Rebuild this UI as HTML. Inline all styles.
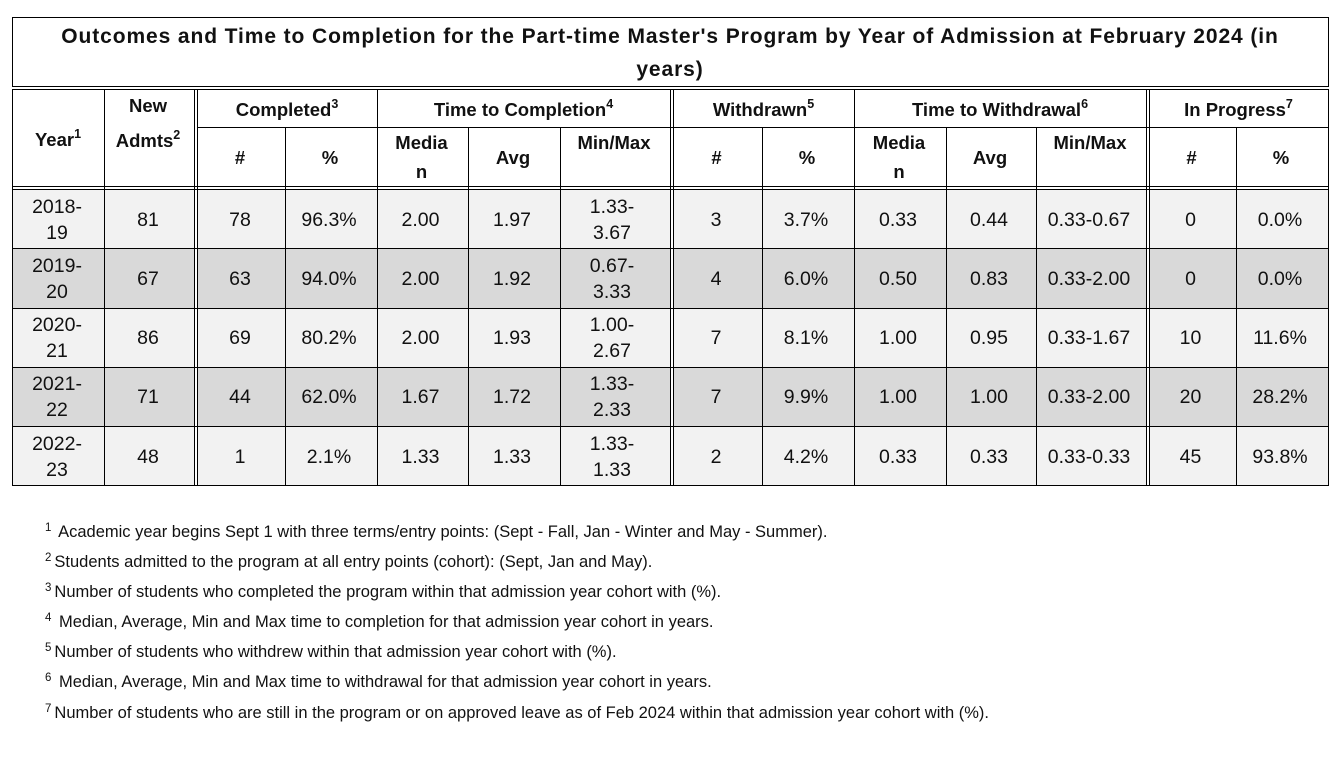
<!DOCTYPE html>
<html><head><meta charset="utf-8"><style>
html,body{margin:0;padding:0;background:#fff;}
#c{position:relative;width:1342px;height:766px;overflow:hidden;background:#fff;font-family:"Liberation Sans",Arial,sans-serif;color:#111;}
.h{position:absolute;height:1px;background:#000;}
.v{position:absolute;width:1px;background:#000;}
.f{position:absolute;}
.t{position:absolute;text-align:center;white-space:nowrap;height:26px;line-height:26px;font-size:19.5px;}
.b{font-weight:bold;font-size:18.5px;}
.s{font-size:12.5px;position:relative;top:-8px;}
.ti{position:absolute;left:12px;width:1316px;height:30px;line-height:30px;text-align:center;white-space:nowrap;font-weight:bold;font-size:21px;letter-spacing:0.9px;}
.fn{position:absolute;left:45px;white-space:nowrap;font-size:16.5px;line-height:20px;height:20px;}
.fn span{font-size:11.5px;position:relative;top:-6px;margin-right:3px;}
</style></head><body><div id="c">
<!-- title box -->
<div class="f" style="left:12px;top:17px;width:1315px;height:68px;border:1px solid #000;"></div>
<div class="ti" style="top:22px;">Outcomes and Time to Completion for the Part-time Master's Program by Year of Admission at February 2024 (in</div>
<div class="ti" style="top:55px;">years)</div>

<!-- row fills -->
<div class="f" style="left:12px;top:190px;width:1316px;height:58px;background:#f2f2f2;"></div>
<div class="f" style="left:12px;top:249px;width:1316px;height:59px;background:#d9d9d9;"></div>
<div class="f" style="left:12px;top:309px;width:1316px;height:58px;background:#f2f2f2;"></div>
<div class="f" style="left:12px;top:368px;width:1316px;height:58px;background:#d9d9d9;"></div>
<div class="f" style="left:12px;top:427px;width:1316px;height:58px;background:#f2f2f2;"></div>
<!-- white gaps of double lines -->
<div class="f" style="left:195px;top:189px;width:2px;height:296px;background:#fff;"></div>
<div class="f" style="left:671px;top:189px;width:2px;height:296px;background:#fff;"></div>
<div class="f" style="left:1147px;top:189px;width:2px;height:296px;background:#fff;"></div>

<!-- horizontal lines -->
<div class="h" style="left:12px;top:89px;width:1317px;"></div>
<div class="h" style="left:197px;top:127px;width:1132px;"></div>
<div class="h" style="left:12px;top:186px;width:1317px;"></div>
<div class="h" style="left:12px;top:189px;width:1317px;"></div>
<div class="h" style="left:12px;top:248px;width:1317px;"></div>
<div class="h" style="left:12px;top:308px;width:1317px;"></div>
<div class="h" style="left:12px;top:367px;width:1317px;"></div>
<div class="h" style="left:12px;top:426px;width:1317px;"></div>
<div class="h" style="left:12px;top:485px;width:1317px;"></div>

<!-- vertical lines -->
<div class="v" style="left:12px;top:89px;height:397px;"></div>
<div class="v" style="left:104px;top:89px;height:397px;"></div>
<div class="v" style="left:194px;top:89px;height:397px;"></div>
<div class="v" style="left:197px;top:89px;height:397px;"></div>
<div class="v" style="left:285px;top:127px;height:359px;"></div>
<div class="v" style="left:377px;top:89px;height:397px;"></div>
<div class="v" style="left:468px;top:127px;height:359px;"></div>
<div class="v" style="left:560px;top:127px;height:359px;"></div>
<div class="v" style="left:670px;top:89px;height:397px;"></div>
<div class="v" style="left:673px;top:89px;height:397px;"></div>
<div class="v" style="left:762px;top:127px;height:359px;"></div>
<div class="v" style="left:854px;top:89px;height:397px;"></div>
<div class="v" style="left:946px;top:127px;height:359px;"></div>
<div class="v" style="left:1036px;top:127px;height:359px;"></div>
<div class="v" style="left:1146px;top:89px;height:397px;"></div>
<div class="v" style="left:1149px;top:89px;height:397px;"></div>
<div class="v" style="left:1236px;top:127px;height:359px;"></div>
<div class="v" style="left:1328px;top:89px;height:397px;"></div>

<!-- header row 1 -->
<div class="t b" style="left:12px;width:92px;top:127px;">Year<span class="s">1</span></div>
<div class="t b" style="left:104px;width:88px;top:93px;">New</div>
<div class="t b" style="left:104px;width:88px;top:128px;">Admts<span class="s">2</span></div>
<div class="t b" style="left:197px;width:180px;top:97px;">Completed<span class="s">3</span></div>
<div class="t b" style="left:377px;width:293px;top:97px;">Time to Completion<span class="s">4</span></div>
<div class="t b" style="left:673px;width:181px;top:97px;">Withdrawn<span class="s">5</span></div>
<div class="t b" style="left:854px;width:292px;top:97px;">Time to Withdrawal<span class="s">6</span></div>
<div class="t b" style="left:1149px;width:179px;top:97px;">In Progress<span class="s">7</span></div>

<!-- header row 2 -->
<div class="t b" style="left:197px;width:86px;top:145px;">#</div>
<div class="t b" style="left:285px;width:90px;top:145px;">%</div>
<div class="t b" style="left:377px;width:89px;top:130px;">Media</div>
<div class="t b" style="left:377px;width:89px;top:159px;">n</div>
<div class="t b" style="left:468px;width:90px;top:145px;">Avg</div>
<div class="t b" style="left:560px;width:108px;top:130px;">Min/Max</div>
<div class="t b" style="left:673px;width:87px;top:145px;">#</div>
<div class="t b" style="left:762px;width:90px;top:145px;">%</div>
<div class="t b" style="left:854px;width:90px;top:130px;">Media</div>
<div class="t b" style="left:854px;width:90px;top:159px;">n</div>
<div class="t b" style="left:946px;width:88px;top:145px;">Avg</div>
<div class="t b" style="left:1036px;width:108px;top:130px;">Min/Max</div>
<div class="t b" style="left:1149px;width:85px;top:145px;">#</div>
<div class="t b" style="left:1236px;width:90px;top:145px;">%</div>

<!-- row 1 (center 220) -->
<div class="t" style="left:12px;width:90px;top:194px;">2018-</div>
<div class="t" style="left:12px;width:90px;top:220px;">19</div>
<div class="t" style="left:104px;width:88px;top:207px;">81</div>
<div class="t" style="left:197px;width:86px;top:207px;">78</div>
<div class="t" style="left:285px;width:88px;top:207px;">96.3%</div>
<div class="t" style="left:377px;width:87px;top:207px;">2.00</div>
<div class="t" style="left:468px;width:88px;top:207px;">1.97</div>
<div class="t" style="left:560px;width:104px;top:194px;">1.33-</div>
<div class="t" style="left:560px;width:104px;top:220px;">3.67</div>
<div class="t" style="left:673px;width:86px;top:207px;">3</div>
<div class="t" style="left:762px;width:88px;top:207px;">3.7%</div>
<div class="t" style="left:854px;width:88px;top:207px;">0.33</div>
<div class="t" style="left:946px;width:86px;top:207px;">0.44</div>
<div class="t" style="left:1036px;width:106px;top:207px;">0.33-0.67</div>
<div class="t" style="left:1149px;width:83px;top:207px;">0</div>
<div class="t" style="left:1236px;width:88px;top:207px;">0.0%</div>

<!-- row 2 (center 279) -->
<div class="t" style="left:12px;width:90px;top:253px;">2019-</div>
<div class="t" style="left:12px;width:90px;top:279px;">20</div>
<div class="t" style="left:104px;width:88px;top:266px;">67</div>
<div class="t" style="left:197px;width:86px;top:266px;">63</div>
<div class="t" style="left:285px;width:88px;top:266px;">94.0%</div>
<div class="t" style="left:377px;width:87px;top:266px;">2.00</div>
<div class="t" style="left:468px;width:88px;top:266px;">1.92</div>
<div class="t" style="left:560px;width:104px;top:253px;">0.67-</div>
<div class="t" style="left:560px;width:104px;top:279px;">3.33</div>
<div class="t" style="left:673px;width:86px;top:266px;">4</div>
<div class="t" style="left:762px;width:88px;top:266px;">6.0%</div>
<div class="t" style="left:854px;width:88px;top:266px;">0.50</div>
<div class="t" style="left:946px;width:86px;top:266px;">0.83</div>
<div class="t" style="left:1036px;width:106px;top:266px;">0.33-2.00</div>
<div class="t" style="left:1149px;width:83px;top:266px;">0</div>
<div class="t" style="left:1236px;width:88px;top:266px;">0.0%</div>

<!-- row 3 (center 338) -->
<div class="t" style="left:12px;width:90px;top:312px;">2020-</div>
<div class="t" style="left:12px;width:90px;top:338px;">21</div>
<div class="t" style="left:104px;width:88px;top:325px;">86</div>
<div class="t" style="left:197px;width:86px;top:325px;">69</div>
<div class="t" style="left:285px;width:88px;top:325px;">80.2%</div>
<div class="t" style="left:377px;width:87px;top:325px;">2.00</div>
<div class="t" style="left:468px;width:88px;top:325px;">1.93</div>
<div class="t" style="left:560px;width:104px;top:312px;">1.00-</div>
<div class="t" style="left:560px;width:104px;top:338px;">2.67</div>
<div class="t" style="left:673px;width:86px;top:325px;">7</div>
<div class="t" style="left:762px;width:88px;top:325px;">8.1%</div>
<div class="t" style="left:854px;width:88px;top:325px;">1.00</div>
<div class="t" style="left:946px;width:86px;top:325px;">0.95</div>
<div class="t" style="left:1036px;width:106px;top:325px;">0.33-1.67</div>
<div class="t" style="left:1149px;width:83px;top:325px;">10</div>
<div class="t" style="left:1236px;width:88px;top:325px;">11.6%</div>

<!-- row 4 (center 397) -->
<div class="t" style="left:12px;width:90px;top:371px;">2021-</div>
<div class="t" style="left:12px;width:90px;top:397px;">22</div>
<div class="t" style="left:104px;width:88px;top:384px;">71</div>
<div class="t" style="left:197px;width:86px;top:384px;">44</div>
<div class="t" style="left:285px;width:88px;top:384px;">62.0%</div>
<div class="t" style="left:377px;width:87px;top:384px;">1.67</div>
<div class="t" style="left:468px;width:88px;top:384px;">1.72</div>
<div class="t" style="left:560px;width:104px;top:371px;">1.33-</div>
<div class="t" style="left:560px;width:104px;top:397px;">2.33</div>
<div class="t" style="left:673px;width:86px;top:384px;">7</div>
<div class="t" style="left:762px;width:88px;top:384px;">9.9%</div>
<div class="t" style="left:854px;width:88px;top:384px;">1.00</div>
<div class="t" style="left:946px;width:86px;top:384px;">1.00</div>
<div class="t" style="left:1036px;width:106px;top:384px;">0.33-2.00</div>
<div class="t" style="left:1149px;width:83px;top:384px;">20</div>
<div class="t" style="left:1236px;width:88px;top:384px;">28.2%</div>

<!-- row 5 (center 457) -->
<div class="t" style="left:12px;width:90px;top:431px;">2022-</div>
<div class="t" style="left:12px;width:90px;top:457px;">23</div>
<div class="t" style="left:104px;width:88px;top:444px;">48</div>
<div class="t" style="left:197px;width:86px;top:444px;">1</div>
<div class="t" style="left:285px;width:88px;top:444px;">2.1%</div>
<div class="t" style="left:377px;width:87px;top:444px;">1.33</div>
<div class="t" style="left:468px;width:88px;top:444px;">1.33</div>
<div class="t" style="left:560px;width:104px;top:431px;">1.33-</div>
<div class="t" style="left:560px;width:104px;top:457px;">1.33</div>
<div class="t" style="left:673px;width:86px;top:444px;">2</div>
<div class="t" style="left:762px;width:88px;top:444px;">4.2%</div>
<div class="t" style="left:854px;width:88px;top:444px;">0.33</div>
<div class="t" style="left:946px;width:86px;top:444px;">0.33</div>
<div class="t" style="left:1036px;width:106px;top:444px;">0.33-0.33</div>
<div class="t" style="left:1149px;width:83px;top:444px;">45</div>
<div class="t" style="left:1236px;width:88px;top:444px;">93.8%</div>

<!-- footnotes -->
<div class="fn" style="top:522px;"><span>1</span> Academic year begins Sept 1 with three terms/entry points: (Sept - Fall, Jan - Winter and May - Summer).</div>
<div class="fn" style="top:552px;"><span>2</span>Students admitted to the program at all entry points (cohort): (Sept, Jan and May).</div>
<div class="fn" style="top:582px;"><span>3</span>Number of students who completed the program within that admission year cohort with (%).</div>
<div class="fn" style="top:612px;"><span>4</span> Median, Average, Min and Max time to completion for that admission year cohort in years.</div>
<div class="fn" style="top:642px;"><span>5</span>Number of students who withdrew within that admission year cohort with (%).</div>
<div class="fn" style="top:672px;"><span>6</span> Median, Average, Min and Max time to withdrawal for that admission year cohort in years.</div>
<div class="fn" style="top:703px;"><span>7</span>Number of students who are still in the program or on approved leave as of Feb 2024 within that admission year cohort with (%).</div>
</div></body></html>
